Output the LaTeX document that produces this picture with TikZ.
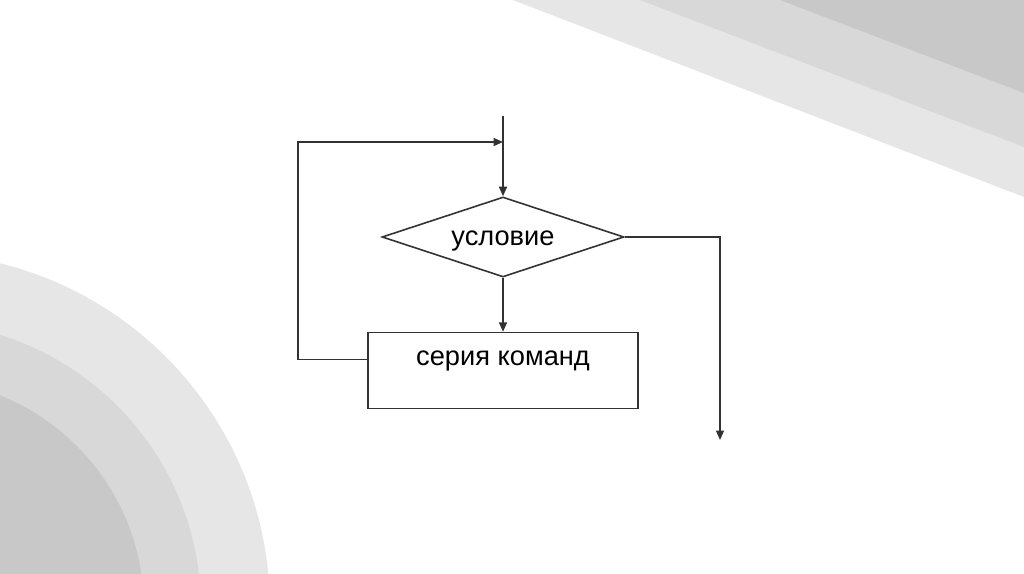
\documentclass[tikz,border=0pt]{standalone}
\usepackage{fontspec}
\setmainfont{Liberation Sans}
\usetikzlibrary{arrows.meta, positioning, shapes.geometric}
\definecolor{bglight}{RGB}{230, 230, 230}
\definecolor{bgmid}{RGB}{216, 216, 216}
\definecolor{bgdark}{RGB}{200, 200, 200}
\definecolor{flowline}{RGB}{50, 50, 50}

\begin{document}
\begin{tikzpicture}[x=0.02cm, y=-0.02cm,
        node distance=1.08cm,
        cnd/.style={draw=flowline, line width=0.9pt, diamond, aspect=3, inner sep=0pt, minimum width=4.84cm, minimum height=1.6cm,
          font=\fontsize{15.5}{18}\selectfont, text height=0.45cm, text depth=0.09cm},
        blk/.style={draw=flowline, line width=0.9pt, rectangle, inner sep=0pt, minimum width=5.4cm, minimum height=1.52cm,
          font=\fontsize{15.5}{18}\selectfont, text height=0.3cm, text depth=0.5cm},
        arr/.style={-{Triangle[length=0.19cm, width=0.16cm]}, line width=0.9pt, flowline}
      ]
        \useasboundingbox (0,0) rectangle (1024,574);
        \fill[white] (0,0) rectangle (1024,574);
        % background
        \begin{scope}
          \clip (0,0) rectangle (1024,574);
          \fill[bglight] (513,0) -- (1024,197) -- (1024,0) -- cycle;
          \fill[bgmid] (640,0) -- (1024,147) -- (1024,0) -- cycle;
          \fill[bgdark] (780,0) -- (1024,93) -- (1024,0) -- cycle;
          \fill[bglight] (-85,608) circle[radius=7.1cm];
          \fill[bgmid] (-85,608) circle[radius=5.72cm];
          \fill[bgdark] (-85,608) circle[radius=4.58cm];
        \end{scope}
        % flowchart
        \node[cnd] (cond) at (503,237) {условие};
        \node[blk, below=of cond] (body) {серия команд};
        \coordinate (start) at (503,116);
        \coordinate (join) at (503,142);
        \coordinate (exit) at (720,440);
        \draw[arr] (start) -- (cond.north);
        \draw[arr] (cond.south) -- (body.north);
        \draw[arr] ([yshift=0.22cm]body.west) -- ++(-69,0) |- (join);
        \draw[arr] (cond.east) -| (exit);
      \end{tikzpicture}
\end{document}
